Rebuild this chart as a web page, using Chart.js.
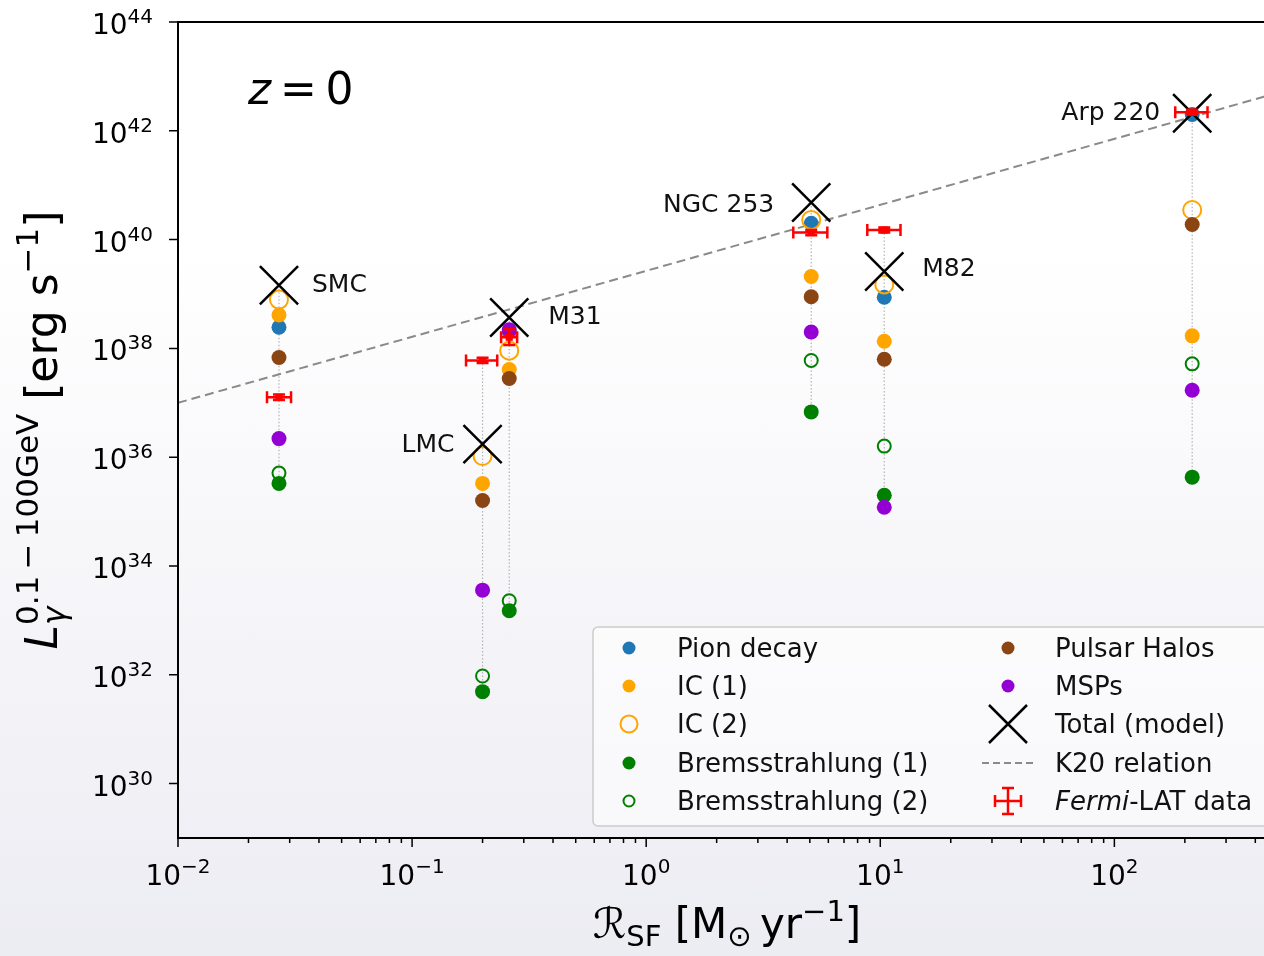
<!DOCTYPE html>
<html>
<head>
<meta charset="utf-8">
<script src="https://cdn.jsdelivr.net/npm/chart.js@4.4.0/dist/chart.umd.min.js"></script>
<style>
html, body { margin: 0; padding: 0; width: 1264px; height: 956px; overflow: hidden; }
body { background: linear-gradient(to bottom, #ffffff 0%, #ffffff 26%, #ececf3 100%); }
#wrap { position: relative; width: 1300px; height: 956px; }
</style>
</head>
<body>
<div id="wrap"><canvas id="myChart" width="1300" height="956"></canvas></div>
<script>

const galaxies = ['SMC', 'LMC', 'M31', 'NGC 253', 'M82', 'Arp 220'];
const sfr = [0.027, 0.20, 0.26, 5.07, 10.4, 215];

// model components, erg/s
const pionDecay = [2.45e38, null, 2.0e38, 2.0e40, 8.7e38, 2.0e42];
const icOne = [4.1e38, 3.3e35, 4.1e37, 2.1e39, 1.35e38, 1.7e38];
const icTwo = [7.9e38, 1.05e36, 9.1e37, 2.3e40, 1.5e39, 3.5e40];
const bremsOne = [3.3e35, 4.9e31, 1.5e33, 6.8e36, 2.0e35, 4.3e35];
const bremsTwo = [5.1e35, 9.5e31, 2.3e33, 6.0e37, 1.6e36, 5.2e37];
const pulsarHalos = [6.8e37, 1.6e35, 2.8e37, 8.9e38, 6.3e37, 1.9e40];
const msps = [2.2e36, 3.6e33, 2.2e38, 2.0e38, 1.2e35, 1.7e37];
const totalModel = [1.45e39, 1.74e36, 3.7e38, 4.8e40, 2.6e39, 2.1e42];

// Fermi-LAT measurements
const fermiL = [1.26e37, 6.0e37, 1.6e38, 1.35e40, 1.5e40, 2.2e42];
const fermiLLo = [1.12e37, 5.4e37, 1.15e38, 1.2e40, 1.35e40, 2.0e42];
const fermiLHi = [1.42e37, 6.7e37, 2.25e38, 1.5e40, 1.67e40, 2.45e42];
const fermiSfrLo = [0.0240, 0.170, 0.240, 4.25, 8.8, 182];
const fermiSfrHi = [0.0304, 0.231, 0.281, 5.94, 12.2, 250];

// K20 relation end points
const k20Sfr = [0.01, 500];
const k20L = [1.0e37, 5.0e42];

const xTickExps = [-2, -1, 0, 1, 2];
const yTickExps = [30, 32, 34, 36, 38, 40, 42, 44];

const FONT = "'DejaVu Sans', sans-serif";
const RED = '#ff0000';

const pts = (vals) => sfr.map((x, i) => ({ x: x, y: vals[i] })).filter(p => p.y != null);

const all = [pionDecay, icOne, icTwo, bremsOne, bremsTwo, pulsarHalos, msps, totalModel, fermiL];
const columns = galaxies.map((g, i) => {
    const v = all.map(a => a[i]).filter(y => y != null);
    return {
        type: 'line',
        data: [{ x: sfr[i], y: Math.max(...v) }, { x: sfr[i], y: Math.min(...v) }],
        borderColor: '#b4b4b4',
        borderWidth: 1.2,
        borderDash: [1.5, 2],
        pointRadius: 0,
        order: 30,
    };
});

const dot = (vals, color, order) => ({
    data: pts(vals),
    pointStyle: 'circle',
    pointRadius: 7.5,
    pointBackgroundColor: color,
    pointBorderColor: color,
    pointBorderWidth: 0,
    order: order,
});

const ring = (vals, color, r, order) => ({
    data: pts(vals),
    pointStyle: 'circle',
    pointRadius: r,
    pointBackgroundColor: 'rgba(0,0,0,0)',
    pointBorderColor: color,
    pointBorderWidth: 2,
    order: order,
});

const datasets = [
    ...columns,
    {
        type: 'line',
        data: k20Sfr.map((x, i) => ({ x: x, y: k20L[i] })),
        borderColor: '#8a8a8a',
        borderWidth: 2,
        borderDash: [9, 5],
        pointRadius: 0,
        order: 25,
    },
    dot(pionDecay, '#1f77b4', 10),
    dot(icOne, '#ffa500', 9),
    ring(icTwo, '#ffa500', 9, 8),
    dot(bremsOne, '#008000', 7),
    ring(bremsTwo, '#008000', 6.5, 6),
    dot(pulsarHalos, '#8b4513', 5),
    dot(msps, '#9400d3', 4),
    {
        data: pts(totalModel),
        pointStyle: 'crossRot',
        pointRadius: 27,
        pointBorderColor: '#000000',
        pointBorderWidth: 2.5,
        order: 3,
    },
    {
        data: pts(fermiL),
        pointStyle: 'rect',
        pointRadius: 5,
        pointBackgroundColor: RED,
        pointBorderColor: RED,
        pointBorderWidth: 0,
        order: 1,
    },
];

const labelPlace = [
    { dx: 33, dy: 0, align: 'left' },
    { dx: -28, dy: 1, align: 'right' },
    { dx: 39, dy: 0, align: 'left' },
    { dx: -37, dy: 3, align: 'right' },
    { dx: 38, dy: -2, align: 'left' },
    { dx: -32, dy: 0, align: 'right' },
];

const legendItems = [
    ['dot', '#1f77b4', 'Pion decay'],
    ['dot', '#ffa500', 'IC (1)'],
    ['ring', '#ffa500', 'IC (2)'],
    ['dot', '#008000', 'Bremsstrahlung (1)'],
    ['ringSmall', '#008000', 'Bremsstrahlung (2)'],
    ['dot', '#8b4513', 'Pulsar Halos'],
    ['dot', '#9400d3', 'MSPs'],
    ['cross', '#000000', 'Total (model)'],
    ['dash', '#8a8a8a', 'K20 relation'],
    ['err', RED, 'Fermi'],
];

function drawRich(ctx, pieces, x, y, align) {
    let w = 0;
    pieces.forEach(p => { ctx.font = p.font; p.w = ctx.measureText(p.t).width; if (!p.stay) w += p.w; });
    let cx = align === 'center' ? x - w / 2 : (align === 'right' ? x - w : x);
    ctx.textAlign = 'left';
    ctx.textBaseline = 'alphabetic';
    pieces.forEach(p => {
        ctx.font = p.font;
        ctx.fillText(p.t, cx, y + (p.dy || 0));
        if (!p.stay) cx += p.w;
    });
}

function marker(ctx, kind, color, x, y) {
    ctx.save();
    ctx.fillStyle = color;
    ctx.strokeStyle = color;
    if (kind === 'dot') {
        ctx.beginPath(); ctx.arc(x, y, 6.5, 0, Math.PI * 2); ctx.fill();
    } else if (kind === 'ring' || kind === 'ringSmall') {
        ctx.lineWidth = 2;
        ctx.beginPath(); ctx.arc(x, y, kind === 'ring' ? 8.5 : 5.5, 0, Math.PI * 2); ctx.stroke();
    } else if (kind === 'cross') {
        ctx.lineWidth = 2.5;
        ctx.beginPath();
        ctx.moveTo(x - 19, y - 19); ctx.lineTo(x + 19, y + 19);
        ctx.moveTo(x - 19, y + 19); ctx.lineTo(x + 19, y - 19);
        ctx.stroke();
    } else if (kind === 'dash') {
        ctx.lineWidth = 2;
        ctx.setLineDash([7, 4]);
        ctx.beginPath(); ctx.moveTo(x - 26, y); ctx.lineTo(x + 26, y); ctx.stroke();
    } else if (kind === 'err') {
        ctx.lineWidth = 2.5;
        ctx.beginPath();
        ctx.moveTo(x - 13, y); ctx.lineTo(x + 13, y);
        ctx.moveTo(x, y - 13); ctx.lineTo(x, y + 13);
        ctx.moveTo(x - 13, y - 6); ctx.lineTo(x - 13, y + 6);
        ctx.moveTo(x + 13, y - 6); ctx.lineTo(x + 13, y + 6);
        ctx.moveTo(x - 6, y - 13); ctx.lineTo(x + 6, y - 13);
        ctx.moveTo(x - 6, y + 13); ctx.lineTo(x + 6, y + 13);
        ctx.stroke();
    }
    ctx.restore();
}

const figurePlugin = {
    id: 'figure',
    afterDatasetsDraw(chart) {
        const ctx = chart.ctx;
        const xs = chart.scales.x;
        const ys = chart.scales.y;
        const a = chart.chartArea;

        // Fermi error bars
        ctx.save();
        ctx.strokeStyle = RED;
        ctx.lineWidth = 2.5;
        fermiL.forEach((L, i) => {
            const px = xs.getPixelForValue(sfr[i]);
            const py = ys.getPixelForValue(L);
            const x0 = xs.getPixelForValue(fermiSfrLo[i]);
            const x1 = xs.getPixelForValue(fermiSfrHi[i]);
            const y0 = ys.getPixelForValue(fermiLLo[i]);
            const y1 = ys.getPixelForValue(fermiLHi[i]);
            ctx.beginPath();
            ctx.moveTo(x0, py); ctx.lineTo(x1, py);
            ctx.moveTo(x0, py - 6); ctx.lineTo(x0, py + 6);
            ctx.moveTo(x1, py - 6); ctx.lineTo(x1, py + 6);
            ctx.moveTo(px, y0); ctx.lineTo(px, y1);
            ctx.moveTo(px - 6, y0); ctx.lineTo(px + 6, y0);
            ctx.moveTo(px - 6, y1); ctx.lineTo(px + 6, y1);
            ctx.stroke();
        });
        ctx.restore();

        // frame and ticks
        ctx.save();
        ctx.strokeStyle = '#000';
        ctx.lineWidth = 2;
        ctx.strokeRect(a.left, a.top, a.right - a.left, a.bottom - a.top);
        ctx.lineWidth = 1.5;
        ctx.beginPath();
        yTickExps.forEach(e => {
            const py = ys.getPixelForValue(Math.pow(10, e));
            ctx.moveTo(a.left - 9, py); ctx.lineTo(a.left, py);
        });
        xTickExps.forEach(e => {
            const base = Math.pow(10, e);
            const px = xs.getPixelForValue(base);
            ctx.moveTo(px, a.bottom); ctx.lineTo(px, a.bottom + 9);
            for (let m = 2; m <= 9; m++) {
                const v = m * base;
                if (v > xs.max) break;
                const mx = xs.getPixelForValue(v);
                ctx.moveTo(mx, a.bottom); ctx.lineTo(mx, a.bottom + 5);
            }
        });
        ctx.stroke();

        ctx.fillStyle = '#000';
        const big = '28px ' + FONT;
        const small = '20px ' + FONT;
        yTickExps.forEach(e => {
            const py = ys.getPixelForValue(Math.pow(10, e));
            drawRich(ctx, [{ t: '10', font: big }, { t: String(e), font: small, dy: -11 }], 153, py + 12, 'right');
        });
        xTickExps.forEach(e => {
            const px = xs.getPixelForValue(Math.pow(10, e));
            const ex = e < 0 ? '\u2212' + Math.abs(e) : String(e);
            drawRich(ctx, [{ t: '10', font: big }, { t: ex, font: small, dy: -12 }], px, a.bottom + 47, 'center');
        });

        // axis titles
        const t42 = '42px ' + FONT;
        const t29 = '29px ' + FONT;
        drawRich(ctx, [
            { t: '\u211B', font: 'italic 42px ' + FONT },
            { t: 'SF', font: t29, dy: 8 },
            { t: ' [M', font: t42 },
            { t: '\u2299', font: t29, dy: 8 },
            { t: '\u2009yr', font: t42 },
            { t: '\u22121', font: t29, dy: -17 },
            { t: ']', font: t42 },
        ], 727, 938, 'center');

        ctx.save();
        ctx.translate(57, 430);
        ctx.rotate(-Math.PI / 2);
        drawRich(ctx, [
            { t: 'L', font: 'italic 44px ' + FONT },
            { t: '\u03B3', font: 'italic 31px ' + FONT, dy: 8, stay: true },
            { t: '0.1\u2009\u2212\u2009100GeV', font: '31px ' + FONT, dy: -19 },
            { t: ' [erg s', font: '44px ' + FONT },
            { t: '\u22121', font: '31px ' + FONT, dy: -19 },
            { t: ']', font: '44px ' + FONT },
        ], 0, 0, 'center');
        ctx.restore();

        // annotations
        drawRich(ctx, [
            { t: 'z', font: 'italic 44px ' + FONT },
            { t: '\u2009=\u2009', font: '44px ' + FONT },
            { t: '0', font: '44px ' + FONT },
        ], 248, 104, 'left');

        ctx.font = '25px ' + FONT;
        ctx.textBaseline = 'middle';
        galaxies.forEach((g, i) => {
            const p = labelPlace[i];
            ctx.textAlign = p.align;
            ctx.fillStyle = '#111';
            ctx.fillText(g, xs.getPixelForValue(sfr[i]) + p.dx, ys.getPixelForValue(totalModel[i]) + p.dy);
        });

        // legend
        const lx = 593, ly = 627, lw = 720, lh = 199;
        ctx.beginPath();
        ctx.roundRect(lx, ly, lw, lh, 5);
        ctx.fillStyle = 'rgba(255,255,255,0.6)';
        ctx.fill();
        ctx.strokeStyle = '#cccccc';
        ctx.lineWidth = 1.5;
        ctx.stroke();

        const rows = [648, 686, 724, 763, 801];
        legendItems.forEach((item, i) => {
            const col = Math.floor(i / 5);
            const r = rows[i % 5];
            const mx = col === 0 ? 629 : 1008;
            const tx = col === 0 ? 677 : 1055;
            marker(ctx, item[0], item[1], mx, r);
            ctx.fillStyle = '#111';
            if (item[0] === 'err') {
                drawRich(ctx, [
                    { t: 'Fermi', font: 'italic 26px ' + FONT },
                    { t: '-LAT data', font: '26px ' + FONT },
                ], tx, r + 9, 'left');
            } else {
                drawRich(ctx, [{ t: item[2], font: '26px ' + FONT }], tx, r + 9, 'left');
            }
        });
        ctx.restore();
    }
};

const config = {
    type: 'scatter',
    data: { datasets: datasets },
    options: {
        responsive: false,
        animation: false,
        events: [],
        layout: { autoPadding: false, padding: { left: 178, top: 22, right: 22, bottom: 118 } },
        plugins: {
            legend: { display: false },
            tooltip: { enabled: false },
        },
        scales: {
            x: { type: 'logarithmic', min: 0.01, max: 500, display: false },
            y: { type: 'logarithmic', min: 1e29, max: 1e44, display: false },
        },
    },
    plugins: [figurePlugin],
};

const myChart = new Chart(document.getElementById('myChart'), config);

</script>
</body>
</html>
